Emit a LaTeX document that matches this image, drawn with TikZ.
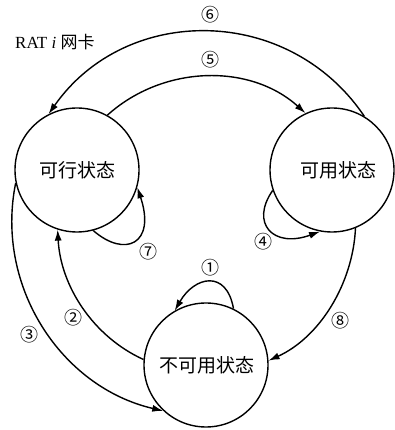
\documentclass[tikz,border=0pt]{standalone}
\usepackage{fontspec}
\setmainfont{Liberation Serif}
\newfontfamily\cjk{Noto Sans CJK SC}
\usetikzlibrary{arrows.meta}
\begin{document}
\begin{tikzpicture}[x=1pt,y=1pt,
  state/.style={circle,draw,line width=1.4pt,minimum size=124pt,inner sep=0pt,font=\cjk\fontsize{19}{19}\selectfont},
  conn/.style={line width=1.4pt,-{Latex[length=11pt,width=7pt]}},
  num/.style={font=\cjk\fontsize{18}{18}\selectfont,inner sep=0pt}]
\useasboundingbox (0,0) rectangle (395,430);
\node[state] (L) at (77,260) {可行状态};
\node[state] (R) at (332,260) {\hspace{12pt}可用状态};
\node[state] (B) at (206,65) {\hspace{2pt}不可用状态};
% arcs
\draw[conn] (L.61) .. controls +(42:75) and +(138:75) .. (R.115);
\draw[conn] (R.59.5) .. controls +(124:135) and +(55:135) .. (L.117);
\draw[conn] (B.175.5) .. controls +(155.5:56) and +(273:56) .. (L.252);
\draw[conn] (L.192) .. controls +(258.5:105) and +(167:105) .. (B.227.5);
\draw[conn] (R.292) .. controls +(267.3:56) and +(24.5:56) .. (B.4.5);
% loops
\draw[conn] (L.285) .. controls +(-41:42) and +(-71.6:60) .. (L.344);
\draw[conn] (R.199) .. controls +(235:40) and +(200:50) .. (R.259);
\draw[conn] (B.64) .. controls +(100:40) and +(60:40) .. (B.120);
% labels
\node[num] (n6) at (210,415) {⑥};
\node[num] (n5) at (210,370) {⑤};
\node[num] (n7) at (148,178) {⑦};
\node[num] (n4) at (263,188) {④};
\node[num] (n1) at (210,162) {①};
\node[num] (n2) at (73,112) {②};
\node[num] (n3) at (29,95) {③};
\node[num] (n8) at (340,109) {⑧};
\node[anchor=west,inner sep=0pt,font=\fontsize{17}{17}\selectfont] (rat) at (15,388) {RAT \textit{i} {\cjk 网卡}};
\end{tikzpicture}
\end{document}
